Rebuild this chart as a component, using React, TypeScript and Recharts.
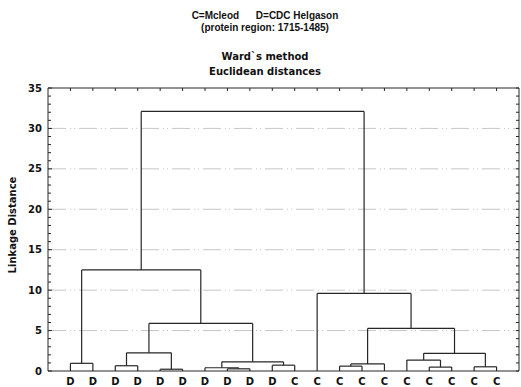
import React from 'react';
import { ScatterChart, Scatter, XAxis, YAxis, ReferenceLine } from 'recharts';

// Leaf labels in dendrogram order (C = Mcleod, D = CDC Helgason)
const leafLabels = ['D', 'D', 'D', 'D', 'D', 'D', 'D', 'D', 'D', 'D', 'C', 'C', 'C', 'C', 'C', 'C', 'C', 'C', 'C', 'C'];

// Agglomeration steps: node ids 0..19 are leaves, 20+k is the cluster formed at step k
const mergeLeft = [4, 7, 6, 16, 18, 12, 2, 9, 25, 0, 22, 15, 31, 26, 28, 33, 11, 29, 37];
const mergeRight = [5, 8, 21, 17, 19, 13, 3, 10, 14, 1, 27, 23, 24, 20, 32, 30, 34, 35, 36];
const mergeHeight = [0.22, 0.27, 0.4, 0.48, 0.52, 0.6, 0.65, 0.72, 0.88, 0.95, 1.13, 1.35, 2.18, 2.25, 5.27, 5.89, 9.6, 12.5, 32.1];

const yTicksMajor = [0, 5, 10, 15, 20, 25, 30, 35];
const gridValues = [5, 10, 15, 20, 25, 30];

const W = 521;
const H = 387;
const INK = '#262626';
const BOLD_SANS = '"DejaVu Sans", Verdana, sans-serif';

type Pt = { x: number; y: number };

// Build elbow segments of the tree from the merge table
const buildLinks = () => {
  const pos: number[] = leafLabels.map((_, i) => i + 1);
  const hts: number[] = leafLabels.map(() => 0);
  const links: [Pt, Pt][] = [];
  mergeLeft.forEach((a, k) => {
    const b = mergeRight[k];
    const h = mergeHeight[k];
    const xa = pos[a];
    const xb = pos[b];
    links.push([{ x: xa, y: hts[a] }, { x: xa, y: h }]);
    links.push([{ x: xa, y: h }, { x: xb, y: h }]);
    links.push([{ x: xb, y: h }, { x: xb, y: hts[b] }]);
    pos.push((xa + xb) / 2);
    hts.push(h);
  });
  return links;
};

const links = buildLinks();
const leafPoints = leafLabels.map((label, i) => ({ x: i + 1, y: 0, label }));
const leafTicks = leafLabels.map((_, i) => i + 1);
const yTicksAll = Array.from({ length: 36 }, (_, i) => i);

const LeftTick = (props: any) => {
  const { x, y, payload } = props;
  const v = payload.value as number;
  const major = yTicksMajor.includes(v);
  return (
    <g>
      <line x1={x} y1={y} x2={x + (major ? 4 : 3)} y2={y} stroke={INK} strokeWidth={1} />
      {major && (
        <text x={x - 6} y={y} dy={3.6} textAnchor="end" fontFamily={BOLD_SANS} fontWeight="bold" fontSize={10} fill="#111">
          {v}
        </text>
      )}
    </g>
  );
};

const RightTick = (props: any) => {
  const { x, y } = props;
  return <line x1={x - 3} y1={y} x2={x} y2={y} stroke={INK} strokeWidth={1} />;
};

const TopTick = (props: any) => {
  const { x, y } = props;
  return <line x1={x} y1={y} x2={x} y2={y + 3} stroke={INK} strokeWidth={1} />;
};

const BottomTick = (props: any) => {
  const { x, y, payload } = props;
  return (
    <text x={x} y={y + 14} textAnchor="middle" fontFamily={BOLD_SANS} fontWeight="bold" fontSize={10} fill="#111">
      {leafLabels[(payload.value as number) - 1]}
    </text>
  );
};

const titleStyle = (top: number, family: string): React.CSSProperties => ({
  position: 'absolute',
  left: 0,
  top,
  width: 530,
  textAlign: 'center',
  fontFamily: family,
  fontWeight: 'bold',
  fontSize: 10,
  lineHeight: '12px',
  color: '#111',
  whiteSpace: 'pre',
});

export default function App() {
  return (
    <div style={{ position: 'absolute', left: 0, top: 0, width: W, height: H, background: '#fff', overflow: 'hidden' }}>
      <div style={titleStyle(10, '"Liberation Sans", Arial, sans-serif')}>{'C=Mcleod      D=CDC Helgason'}</div>
      <div style={titleStyle(22, '"Liberation Sans", Arial, sans-serif')}>(protein region: 1715-1485)</div>
      <div style={titleStyle(51, BOLD_SANS)}>Ward`s method</div>
      <div style={titleStyle(66, BOLD_SANS)}>Euclidean distances</div>
      <div
        style={{
          position: 'absolute',
          left: 13 - 60,
          top: 225 - 6,
          width: 120,
          height: 12,
          lineHeight: '12px',
          textAlign: 'center',
          transform: 'rotate(-90deg)',
          fontFamily: BOLD_SANS,
          fontWeight: 'bold',
          fontSize: 10,
          color: '#111',
        }}
      >
        Linkage Distance
      </div>
      <div style={{ position: 'absolute', left: 0, top: 0 }}>
        <ScatterChart width={W} height={H} margin={{ top: 87, right: 0, bottom: 0, left: 0 }}>
          <XAxis
            xAxisId={0}
            type="number"
            dataKey="x"
            domain={[0, 21]}
            ticks={leafTicks}
            interval={0}
            height={16}
            tickSize={0}
            tickMargin={0}
            tickLine={false}
            axisLine={{ stroke: INK, strokeWidth: 1 }}
            tick={<BottomTick />}
            allowDataOverflow
          />
          <XAxis
            xAxisId="top"
            orientation="top"
            type="number"
            dataKey="x"
            domain={[0, 21]}
            ticks={leafTicks}
            interval={0}
            height={1}
            tickSize={0}
            tickMargin={0}
            tickLine={false}
            axisLine={{ stroke: INK, strokeWidth: 1 }}
            tick={<TopTick />}
            allowDataOverflow
          />
          <YAxis
            yAxisId={0}
            type="number"
            dataKey="y"
            domain={[0, 35]}
            ticks={yTicksAll}
            interval={0}
            width={48}
            tickSize={0}
            tickMargin={0}
            tickLine={false}
            axisLine={{ stroke: INK, strokeWidth: 1 }}
            tick={<LeftTick />}
            allowDataOverflow
          />
          <YAxis
            yAxisId="right"
            orientation="right"
            type="number"
            dataKey="y"
            domain={[0, 35]}
            ticks={yTicksAll}
            interval={0}
            width={2}
            tickSize={0}
            tickMargin={0}
            tickLine={false}
            axisLine={{ stroke: INK, strokeWidth: 1 }}
            tick={<RightTick />}
            allowDataOverflow
          />
          {gridValues.map((v) => (
            <ReferenceLine
              key={`g${v}`}
              y={v}
              stroke="#b8b8b8"
              strokeWidth={0.8}
              strokeDasharray="18 4 1 3 1 4"
            />
          ))}
          <Scatter data={leafPoints} xAxisId={0} yAxisId={0} shape={() => <g />} isAnimationActive={false} />
          <Scatter data={leafPoints} xAxisId="top" yAxisId="right" shape={() => <g />} isAnimationActive={false} />
          {links.map((seg, i) => (
            <ReferenceLine key={`l${i}`} segment={seg} stroke={INK} strokeWidth={1.2} ifOverflow="visible" />
          ))}
        </ScatterChart>
      </div>
    </div>
  );
}
